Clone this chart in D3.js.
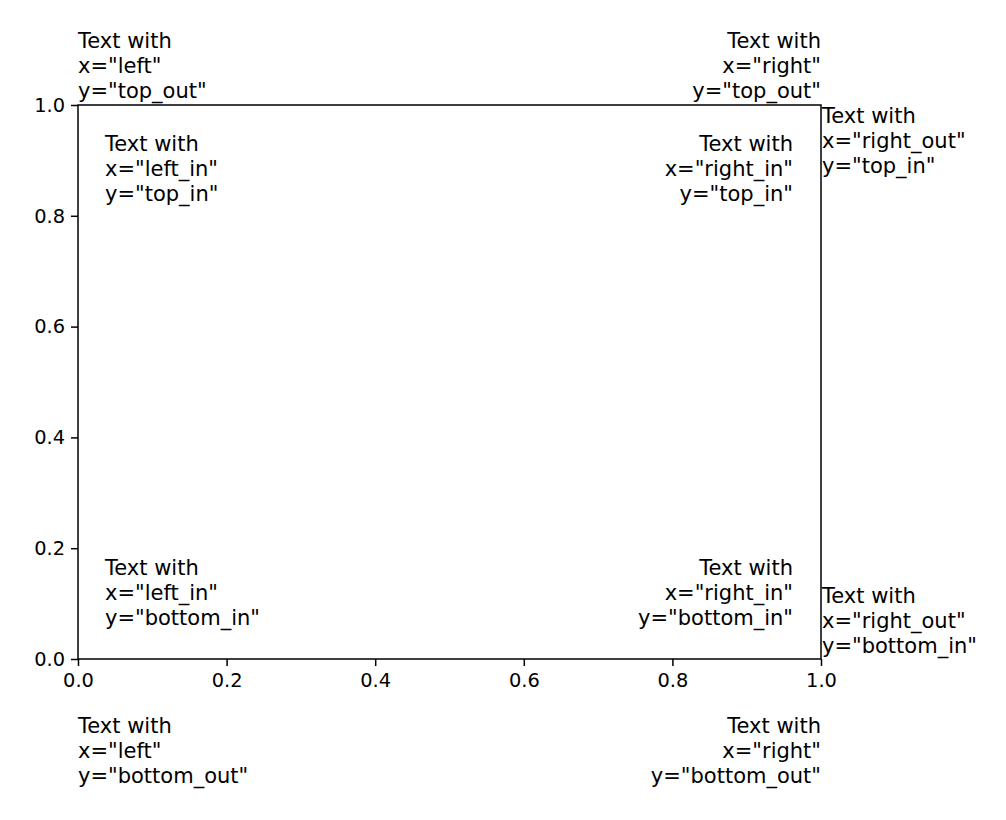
<!DOCTYPE html>
<html>
<head>
<meta charset="utf-8">
<script src="https://cdn.jsdelivr.net/npm/d3@7"></script>
<style>
  html, body { margin: 0; padding: 0; background: #fff; }
  svg { display: block; }
  text { font-family: "DejaVu Sans", sans-serif; fill: #000; }
</style>
</head>
<body>
<script>
// ---- data ----
const xTicks = [0.0, 0.2, 0.4, 0.6, 0.8, 1.0];
const yTicks = [0.0, 0.2, 0.4, 0.6, 0.8, 1.0];
const xDomain = [0, 1];
const yDomain = [0, 1];
const annotX = ["left", "right", "right_out", "left_in", "right_in", "left_in", "right_in", "right_out", "left", "right"];
const annotY = ["top_out", "top_out", "top_in", "top_in", "top_in", "bottom_in", "bottom_in", "bottom_in", "bottom_out", "bottom_out"];

// ---- layout ----
const W = 1006, H = 820;
const M = { left: 78, right: 821, top: 105, bottom: 659 };
const FS = 19.4, AFS = 21, LH = 24.8, PADIN = 27;

const svg = d3.select("body").append("svg").attr("width", W).attr("height", H);

const x = d3.scaleLinear().domain(xDomain).range([M.left, M.right]);
const y = d3.scaleLinear().domain(yDomain).range([M.bottom, M.top]);

const fmt = d3.format(".1f");

const gx = svg.append("g").attr("transform", `translate(0,${M.bottom})`)
  .call(d3.axisBottom(x).tickValues(xTicks).tickFormat(fmt).tickSizeOuter(0).tickSize(7).tickPadding(7));
const gy = svg.append("g").attr("transform", `translate(${M.left},0)`)
  .call(d3.axisLeft(y).tickValues(yTicks).tickFormat(fmt).tickSizeOuter(0).tickSize(7).tickPadding(6));
[gx, gy].forEach(g => {
  g.select(".domain").remove();
  g.selectAll(".tick line").attr("stroke", "#000").attr("stroke-width", 1.5);
  g.selectAll(".tick text").attr("font-family", "DejaVu Sans").attr("font-size", FS).attr("fill", "#000");
});

// frame
svg.append("rect")
  .attr("x", M.left).attr("y", M.top)
  .attr("width", M.right - M.left).attr("height", M.bottom - M.top)
  .attr("fill", "none").attr("stroke", "#000").attr("stroke-width", 1.5);

// annotations
annotX.forEach((ax, i) => {
  const ay = annotY[i];
  const lines = ["Text with", `x="${ax}"`, `y="${ay}"`];
  const bothIn = ax.endsWith("_in") && ay.endsWith("_in");
  let tx, anchor;
  if (ax === "left") { tx = x(0); anchor = "start"; }
  else if (ax === "right") { tx = x(1); anchor = "end"; }
  else if (ax === "left_in") { tx = x(0) + PADIN; anchor = "start"; }
  else if (ax === "right_in") { tx = x(1) - PADIN - 1; anchor = "end"; }
  else { tx = x(1) + 1; anchor = "start"; }
  let firstBase;
  if (ay === "top_out") firstBase = y(1) - 7 - 2 * LH;
  else if (ay === "top_in") firstBase = bothIn ? y(1) + 46 : y(1) + 18;
  else if (ay === "bottom_in") firstBase = (bothIn ? y(0) - 34 : y(0) - 6) - 2 * LH;
  else firstBase = y(0) + 74;
  const t = svg.append("text")
    .attr("x", tx).attr("y", firstBase)
    .attr("text-anchor", anchor)
    .attr("font-size", AFS);
  lines.forEach((s, j) => {
    t.append("tspan").attr("x", tx).attr("y", firstBase + j * LH).text(s);
  });
});
</script>
</body>
</html>
